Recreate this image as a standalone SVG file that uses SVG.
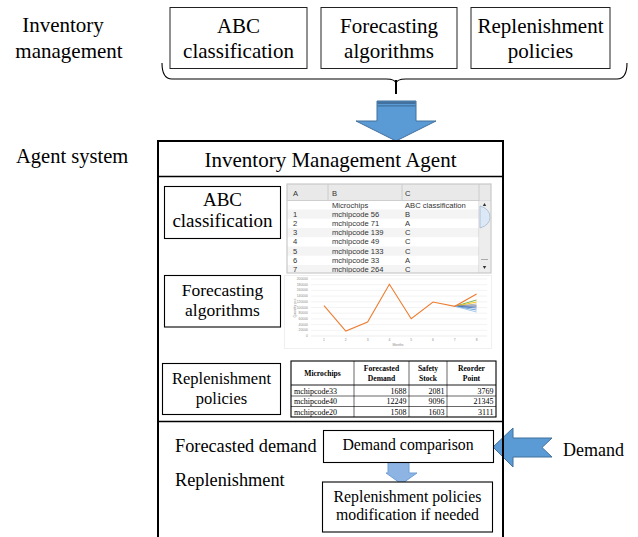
<svg xmlns="http://www.w3.org/2000/svg" width="638" height="537" viewBox="0 0 638 537">
<style>
.t{font-family:"Liberation Serif","Times New Roman",serif;fill:#000}
.s{font-family:"Liberation Sans",Arial,sans-serif;fill:#333;font-size:7.6px}
.box{fill:#fff;stroke:#222;stroke-width:1}
.ibox{fill:#fff;stroke:#000;stroke-width:1.1}
.grid{stroke:#e6e6e6;stroke-width:0.5}
.ax{font-family:"Liberation Sans",Arial,sans-serif;fill:#8a8a8a;font-size:3.4px}
.tb{font-family:"Liberation Serif","Times New Roman",serif;fill:#000;font-size:8px}
.th{font-family:"Liberation Serif","Times New Roman",serif;fill:#000;font-size:7.6px;font-weight:bold}
.blue{fill:#5b9bd5;stroke:#41719c;stroke-width:1}
</style>
<defs>
<clipPath id="sheetclip"><rect x="287" y="184" width="204" height="89"/></clipPath>
</defs>
<rect width="638" height="537" fill="#fff"/>

<g id="inventory-management-label">
<text class="t" font-size="21" x="63" y="32" text-anchor="middle">Inventory</text>
<text class="t" font-size="21" x="69" y="58" text-anchor="middle">management</text>
</g>

<g id="top-abc">
<rect class="box" x="170" y="7.5" width="137" height="61"/>
<text class="t" font-size="21" x="238.5" y="33" text-anchor="middle">ABC</text>
<text class="t" font-size="21" x="238.5" y="58" text-anchor="middle">classification</text>
</g>
<g id="top-forecasting">
<rect class="box" x="321" y="7.5" width="136" height="61"/>
<text class="t" font-size="21" x="389" y="33" text-anchor="middle">Forecasting</text>
<text class="t" font-size="21" x="389" y="58" text-anchor="middle">algorithms</text>
</g>
<g id="top-replenishment">
<rect class="box" x="471" y="7.5" width="139" height="61"/>
<text class="t" font-size="21" x="540.5" y="33" text-anchor="middle">Replenishment</text>
<text class="t" font-size="21" x="540.5" y="58" text-anchor="middle">policies</text>
</g>

<g id="agent-system-label">
<text class="t" font-size="20.5" x="16" y="163">Agent system</text>
</g>

<g id="connectors">
<path d="M162,63 Q162,79 172,79 L386,79 Q396,79 396,84 L396,94 M396,84 Q396,79 406,79 L617,79 Q627,79 627,63" fill="none" stroke="#000" stroke-width="1.1"/>
<path d="M396,80 L396,94" stroke="#000" stroke-width="2"/>
<polygon class="blue" points="377,101 416,101 416,121 436,121 396,141 356,121 377,121"/>
<rect x="377.5" y="101.5" width="38" height="2.5" fill="#41719c"/>
<line x1="377.5" y1="105.8" x2="415.5" y2="105.8" stroke="#41719c" stroke-width="1.2"/>
<polygon class="blue" points="493,447 513,428 513,438 552,438 542,447.5 552,457 513,457 513,467"/>
<polygon points="388,462.5 409,462.5 409,473 417,473 401.5,484 386,473 388,473" fill="#8db4e2" stroke="#6f9fd6" stroke-width="1"/>
</g>

<g id="agent">
<rect x="158" y="141" width="345" height="410" fill="none" stroke="#000" stroke-width="2"/>
<line x1="158" y1="176.5" x2="503" y2="176.5" stroke="#000" stroke-width="1.3"/>
<line x1="158" y1="421.5" x2="503" y2="421.5" stroke="#000" stroke-width="1.3"/>
<text class="t" font-size="21" x="330.5" y="167" text-anchor="middle">Inventory Management Agent</text>
</g>

<g id="agent-abc">
<rect class="ibox" x="164.5" y="186.5" width="116" height="52"/>
<text class="t" font-size="19" x="222.5" y="206" text-anchor="middle">ABC</text>
<text class="t" font-size="19" x="222.5" y="227" text-anchor="middle">classification</text>
</g>
<g id="agent-forecasting">
<rect class="ibox" x="164.5" y="275.5" width="116" height="51.5"/>
<text class="t" font-size="17.5" x="222.5" y="296" text-anchor="middle">Forecasting</text>
<text class="t" font-size="17.5" x="222.5" y="316" text-anchor="middle">algorithms</text>
</g>
<g id="agent-replenishment">
<rect class="ibox" x="162.5" y="363.5" width="118" height="51"/>
<text class="t" font-size="16.5" x="221.5" y="384" text-anchor="middle">Replenishment</text>
<text class="t" font-size="16.5" x="221.5" y="404" text-anchor="middle">policies</text>
</g>

<g id="abc-sheet">
<g clip-path="url(#sheetclip)">
<rect x="287" y="184" width="204" height="89" fill="#fff"/>
<rect x="287" y="184" width="204" height="16.5" fill="#e9e9e9"/>
<rect x="287" y="209.5" width="192" height="9.2" fill="#f4f4f4"/>
<rect x="287" y="228" width="192" height="9.2" fill="#f4f4f4"/>
<rect x="287" y="246.5" width="192" height="9.2" fill="#f4f4f4"/>
<rect x="287" y="265" width="192" height="9.2" fill="#f4f4f4"/>
<line x1="328" y1="184" x2="328" y2="200.5" stroke="#c4c4c4" stroke-width="0.8"/>
<line x1="402" y1="184" x2="402" y2="200.5" stroke="#c4c4c4" stroke-width="0.8"/>
<line x1="479" y1="184" x2="479" y2="273" stroke="#c4c4c4" stroke-width="0.8"/>
<line x1="287" y1="200.5" x2="491" y2="200.5" stroke="#c4c4c4" stroke-width="0.8"/>
<rect x="479.5" y="200.5" width="11" height="73" fill="#ededed"/>
<path d="M480,206 Q490,209 490,217 Q490,225 480,228 Z" fill="#dce8f5" stroke="#9ab3cf" stroke-width="0.7"/>
<polygon points="482.8,206 486.2,206 484.5,203" fill="#333"/>
<polygon points="482.8,266 486.2,266 484.5,269" fill="#333"/>
<line x1="481" y1="259.5" x2="488" y2="259.5" stroke="#aaa" stroke-width="1"/>
<text class="s" x="293" y="196">A</text>
<text class="s" x="332" y="196">B</text>
<text class="s" x="405" y="196">C</text>
<text class="s" x="332" y="207.5">Microchips</text>
<text class="s" x="405" y="207.5">ABC classification</text>
<text class="s" x="293" y="216.5">1</text><text class="s" x="332" y="216.5">mchipcode 56</text><text class="s" x="405" y="216.5">B</text>
<text class="s" x="293" y="225.8">2</text><text class="s" x="332" y="225.8">mchipcode 71</text><text class="s" x="405" y="225.8">A</text>
<text class="s" x="293" y="235">3</text><text class="s" x="332" y="235">mchipcode 139</text><text class="s" x="405" y="235">C</text>
<text class="s" x="293" y="244.3">4</text><text class="s" x="332" y="244.3">mchipcode 49</text><text class="s" x="405" y="244.3">C</text>
<text class="s" x="293" y="253.6">5</text><text class="s" x="332" y="253.6">mchipcode 133</text><text class="s" x="405" y="253.6">C</text>
<text class="s" x="293" y="262.9">6</text><text class="s" x="332" y="262.9">mchipcode 33</text><text class="s" x="405" y="262.9">A</text>
<text class="s" x="293" y="272.2">7</text><text class="s" x="332" y="272.2">mchipcode 264</text><text class="s" x="405" y="272.2">C</text>
</g>
<rect x="287" y="184" width="204" height="89" fill="none" stroke="#c8c8c8" stroke-width="1.2"/>
</g>

<g id="forecast-chart">
<rect x="284.5" y="275.5" width="207" height="73" fill="#fff" stroke="#ececec" stroke-width="0.8"/>
<g class="grid">
<line x1="311" y1="336" x2="487" y2="336" stroke="#d9d9d9"/>
<line x1="311" y1="330.3" x2="487" y2="330.3"/>
<line x1="311" y1="324.6" x2="487" y2="324.6"/>
<line x1="311" y1="318.9" x2="487" y2="318.9"/>
<line x1="311" y1="313.2" x2="487" y2="313.2"/>
<line x1="311" y1="307.5" x2="487" y2="307.5"/>
<line x1="311" y1="301.8" x2="487" y2="301.8"/>
<line x1="311" y1="296.1" x2="487" y2="296.1"/>
<line x1="311" y1="290.4" x2="487" y2="290.4"/>
<line x1="311" y1="284.7" x2="487" y2="284.7"/>
<line x1="311" y1="279" x2="487" y2="279"/>
</g>
<g class="ax" text-anchor="end">
<text x="308" y="337">0</text>
<text x="308" y="331.3">20000</text>
<text x="308" y="325.6">40000</text>
<text x="308" y="319.9">60000</text>
<text x="308" y="314.2">80000</text>
<text x="308" y="308.5">100000</text>
<text x="308" y="302.8">120000</text>
<text x="308" y="297.1">140000</text>
<text x="308" y="291.4">160000</text>
<text x="308" y="285.7">180000</text>
<text x="308" y="280">200000</text>
</g>
<text class="ax" font-size="4.2" x="296" y="308" text-anchor="middle" transform="rotate(-90 296 308)">Quantity pcs</text>
<g class="ax" text-anchor="middle">
<text x="324" y="341">1</text>
<text x="345.8" y="341">2</text>
<text x="367.6" y="341">3</text>
<text x="389.4" y="341">4</text>
<text x="411.2" y="341">5</text>
<text x="433" y="341">6</text>
<text x="454.8" y="341">7</text>
<text x="476.6" y="341">8</text>
</g>
<text class="ax" font-size="4.4" x="398" y="345.5" text-anchor="middle">Months</text>
<g fill="none" stroke-width="0.9">
<line x1="454.8" y1="306.3" x2="476.6" y2="300" stroke="#70ad47"/>
<line x1="454.8" y1="306.3" x2="476.6" y2="302" stroke="#ffc000"/>
<line x1="454.8" y1="306.3" x2="476.6" y2="304" stroke="#a5a5a5"/>
<line x1="454.8" y1="306.3" x2="476.6" y2="306" stroke="#264478"/>
<line x1="454.8" y1="306.3" x2="476.6" y2="308" stroke="#4472c4"/>
<line x1="454.8" y1="306.3" x2="476.6" y2="310" stroke="#5b9bd5"/>
<line x1="454.8" y1="306.3" x2="476.6" y2="312" stroke="#9dc3e6"/>
<polyline points="324,305.7 345.8,331 367.6,322 389.4,284.3 411.2,318.7 433,302 454.8,306.3 476.6,294" stroke="#ed7d31" stroke-width="1.1"/>
</g>
</g>

<g id="replenishment-table">
<rect x="291" y="361" width="205" height="56" fill="#fff" stroke="#000" stroke-width="1.1"/>
<g stroke="#000" stroke-width="0.6">
<line x1="354" y1="361" x2="354" y2="417"/>
<line x1="409" y1="361" x2="409" y2="417"/>
<line x1="447" y1="361" x2="447" y2="417"/>
<line x1="291" y1="385" x2="496" y2="385" stroke-width="0.9"/>
<line x1="291" y1="396" x2="496" y2="396"/>
<line x1="291" y1="406.5" x2="496" y2="406.5"/>
</g>
<g text-anchor="middle">
<text class="th" x="322.5" y="376">Microchips</text>
<text class="th" x="381.5" y="371">Forecasted</text>
<text class="th" x="381.5" y="381">Demand</text>
<text class="th" x="428" y="371">Safety</text>
<text class="th" x="428" y="381">Stock</text>
<text class="th" x="471.5" y="371">Reorder</text>
<text class="th" x="471.5" y="381">Point</text>
</g>
<text class="tb" x="294" y="393.5">mchipcode33</text>
<text class="tb" x="294" y="404">mchipcode40</text>
<text class="tb" x="294" y="414.5">mchipcode20</text>
<g text-anchor="end">
<text class="tb" x="406.5" y="393.5">1688</text>
<text class="tb" x="444.5" y="393.5">2081</text>
<text class="tb" x="493.5" y="393.5">3769</text>
<text class="tb" x="406.5" y="404">12249</text>
<text class="tb" x="444.5" y="404">9096</text>
<text class="tb" x="493.5" y="404">21345</text>
<text class="tb" x="406.5" y="414.5">1508</text>
<text class="tb" x="444.5" y="414.5">1603</text>
<text class="tb" x="493.5" y="414.5">3111</text>
</g>
</g>

<g id="forecasted-demand-label">
<text class="t" font-size="18.3" x="175" y="452">Forecasted demand</text>
</g>
<g id="replenishment-label">
<text class="t" font-size="18.3" x="175" y="486">Replenishment</text>
</g>
<g id="demand-comparison">
<rect class="ibox" x="323.5" y="430.5" width="170" height="32"/>
<text class="t" font-size="15.8" x="408" y="450" text-anchor="middle">Demand comparison</text>
</g>
<g id="policies-modification">
<rect class="ibox" x="322.5" y="482" width="170" height="50"/>
<text class="t" font-size="15.8" x="407.5" y="501.5" text-anchor="middle">Replenishment policies</text>
<text class="t" font-size="15.8" x="407.5" y="520" text-anchor="middle">modification if needed</text>
</g>
<g id="demand-label">
<text class="t" font-size="18" x="563" y="456">Demand</text>
</g>
</svg>
